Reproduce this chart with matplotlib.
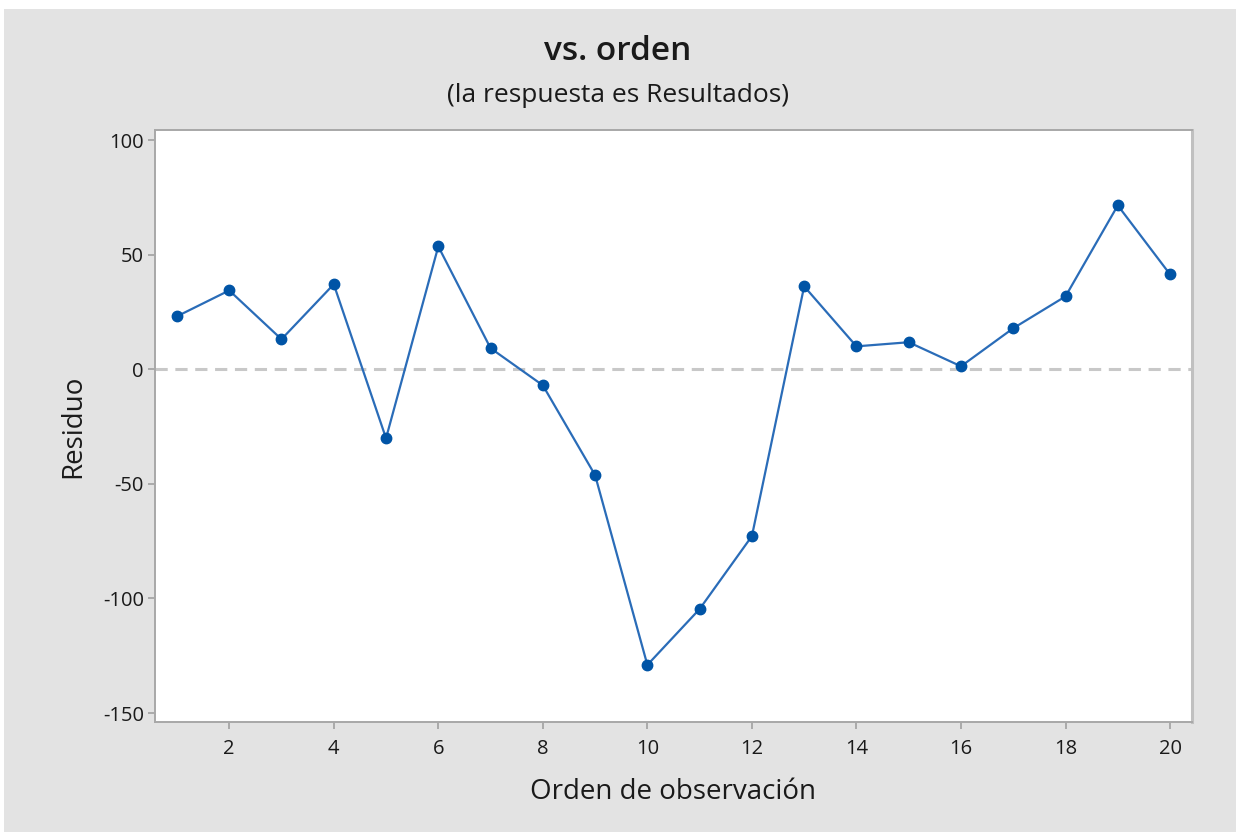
import matplotlib
matplotlib.use("Agg")
import matplotlib.pyplot as plt
from matplotlib.patches import Rectangle

plt.rcParams['font.family'] = ['Open Sans', 'DejaVu Sans']
plt.rcParams['axes.unicode_minus'] = False

orden = list(range(1, 21))
residuo = [23.1, 34.4, 13.1, 37.1, -30.1, 53.6, 9.2, -7.0, -46.2, -129.0,
           -104.6, -72.8, 36.2, 10.0, 11.8, 1.3, 17.9, 31.8, 71.5, 41.4]
x_ticks = [2, 4, 6, 8, 10, 12, 14, 16, 18, 20]
y_ticks = [-150, -100, -50, 0, 50, 100]

fig = plt.figure(figsize=(12.36, 8.32), dpi=100)
fig.patch.set_facecolor('white')
# grey panel behind the plot
fig.patches.append(Rectangle((4 / 1236, 0), 1 - 4 / 1236, 1 - 9 / 832,
                             transform=fig.transFigure, facecolor='#e3e3e3',
                             edgecolor='none', zorder=-10))

ax = fig.add_axes([155 / 1236, 1 - 722 / 832, (1192 - 155) / 1236, (722 - 130) / 832])
ax.set_facecolor('white')

ax.axhline(0, color='#c8c8c8', linestyle=(0, (4, 2.5)), linewidth=2.2, zorder=1)
ax.plot(orden, residuo, color='#2a6cb8', linewidth=1.6, zorder=2)
ax.plot(orden, residuo, linestyle='none', marker='o', markersize=7.5,
        color='#0054a6', zorder=3)

ax.set_xlim(0.58, 20.42)
ax.set_ylim(-153.9, 104.4)
ax.set_xticks(x_ticks)
ax.set_yticks(y_ticks)
ax.tick_params(axis='both', colors='#a0a0a0', labelcolor='#1a1a1a',
               labelsize=14.5, length=5, width=1.2)
ax.tick_params(axis='x', pad=7)
ax.tick_params(axis='y', pad=3)
for lbl in ax.get_xticklabels() + ax.get_yticklabels():
    lbl.set_fontweight('medium')

for side in ['left', 'bottom', 'top', 'right']:
    ax.spines[side].set_color('#a8a8a8')
    ax.spines[side].set_linewidth(1.4)
ax.spines['right'].set_linewidth(2.2)
ax.spines['right'].set_color('#c0c0c0')

ax.set_xlabel('Orden de observación', fontsize=20, color='#1a1a1a',
              labelpad=14, fontweight='medium')
ax.set_ylabel('Residuo', fontsize=20, color='#1a1a1a', labelpad=11,
              fontweight='medium')

fig.text(0.5, 1 - 52 / 832, 'vs. orden', ha='center', va='center',
         fontsize=24, color='#1a1a1a', fontweight='semibold')
fig.text(0.5, 1 - 95 / 832, '(la respuesta es Resultados)', ha='center',
         va='center', fontsize=19, color='#1a1a1a', fontweight='medium')

fig.savefig('out.png', dpi=100, facecolor=fig.get_facecolor())
